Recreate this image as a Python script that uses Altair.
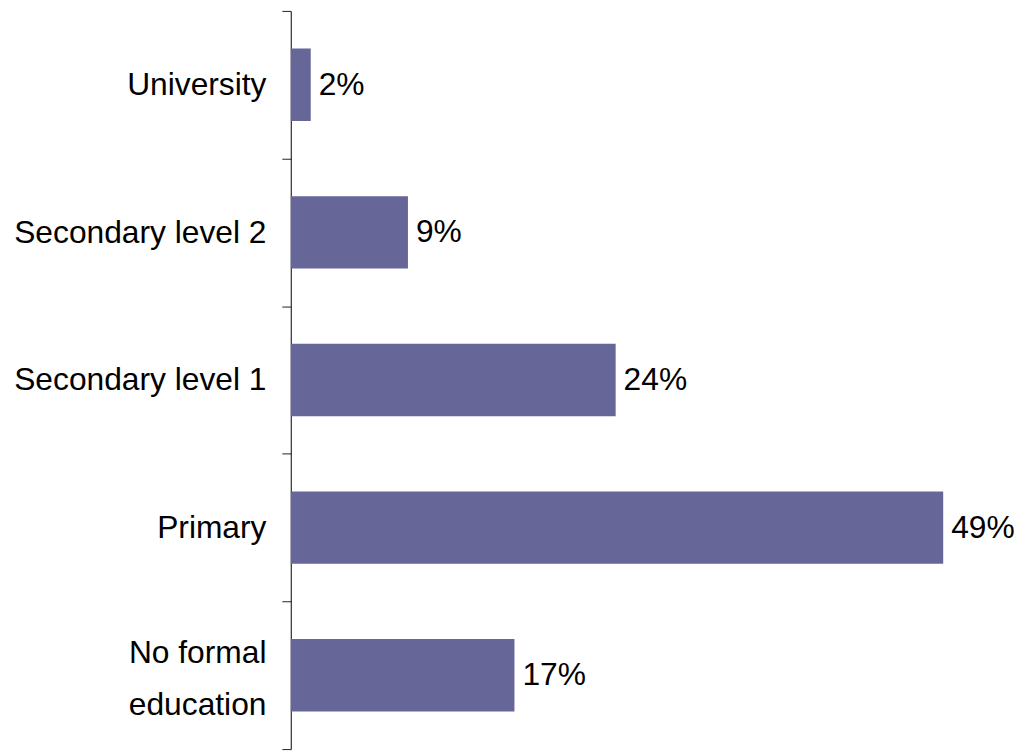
import altair as alt
import pandas as pd

categories = ["University", "Secondary level 2", "Secondary level 1", "Primary", "No formal education"]
values = [1.5, 8.8, 24.4, 49.0, 16.8]
labels = ["2%", "9%", "24%", "49%", "17%"]

df = pd.DataFrame({"level": categories, "pct": values, "label": labels})

FONT = "Liberation Sans, Arial, Helvetica, sans-serif"
FS = 32

y_enc = alt.Y(
    "level:N",
    sort=categories,
    scale=alt.Scale(paddingInner=0, paddingOuter=0),
    axis=alt.Axis(
        title=None,
        tickBand="extent",
        tickSize=9,
        labelPadding=16,
        labelFontSize=FS,
        labelFont=FONT,
        labelColor="black",
        labelLineHeight=53,
        labelLimit=500,
        labelOffset={"condition": {"test": "datum.value == 'No formal education'", "value": -23}, "value": 0},
        domainColor="black",
        tickColor="#222222",
        labelExpr="datum.value == 'No formal education' ? ['No formal', 'education'] : datum.value",
    ),
)
x_enc = alt.X("pct:Q", scale=alt.Scale(domain=[0, 50]), axis=None)

bars = alt.Chart(df).mark_bar(color="#666699", height={"band": 0.49}).encode(x=x_enc, y=y_enc)
text = alt.Chart(df).mark_text(
    align="left", baseline="middle", dx=8, fontSize=FS, font=FONT, color="black"
).encode(x=x_enc, y=y_enc, text="label:N")

chart = (
    alt.layer(bars, text)
    .properties(
        width=671,
        height=744,
        autosize=alt.AutoSizeParams(type="none"),
        padding={"left": 285, "top": 0, "right": 66, "bottom": 0},
    )
    .configure_view(stroke=None)
)

chart.save("out.html", embed_options={"renderer": "svg", "actions": False})
